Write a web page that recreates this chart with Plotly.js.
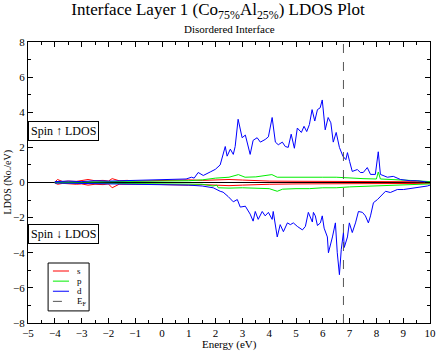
<!DOCTYPE html>
<html>
<head>
<meta charset="utf-8">
<script src="https://cdn.plot.ly/plotly-3.0.1.min.js"></script>
<style>
  body { margin: 0; background: #fff; }
  #graph { width: 436px; height: 351px; }
</style>
</head>
<body>
<div id="graph"></div>
<script>
// s orbital (red)
const sUpE = [-4, -3.9, -3.7, -3.5, -3.2, -3.0, -2.76, -2.5, -2.2, -2.0, -1.86, -1.6, -1.3, -1.0, -0.5, 0, 0.5, 1, 1.5, 2, 2.5, 3, 3.5, 4, 5, 6, 7, 8, 9, 10];
const sUp = [0.02, 0.17, 0.05, 0.08, 0.06, 0.1, 0.17, 0.1, 0.12, 0.08, 0.22, 0.1, 0.12, 0.08, 0.1, 0.12, 0.1, 0.15, 0.12, 0.15, 0.17, 0.14, 0.1, 0.08, 0.07, 0.07, 0.07, 0.06, 0.05, 0.04];
const sDnE = sUpE;
const sDn = [-0.02, -0.1, -0.05, -0.08, -0.1, -0.08, -0.15, -0.1, -0.12, -0.08, -0.3, -0.1, -0.12, -0.1, -0.1, -0.12, -0.1, -0.15, -0.12, -0.15, -0.18, -0.15, -0.12, -0.1, -0.08, -0.08, -0.08, -0.07, -0.06, -0.05];

// p orbital (green)
const pUpE = [-4, -3, -2, -1, 0, 1, 1.5, 2, 2.5, 2.85, 3.1, 3.5, 4.1, 4.3, 5, 5.5, 6, 6.5, 7, 7.5, 8.0, 8.07, 8.15, 8.5, 9, 9.5, 10];
const pUp = [0.02, 0.03, 0.05, 0.05, 0.06, 0.1, 0.15, 0.25, 0.3, 0.45, 0.3, 0.32, 0.45, 0.3, 0.3, 0.32, 0.3, 0.3, 0.25, 0.22, 0.2, 0.6, 0.2, 0.18, 0.15, 0.1, 0.05];
const pDnE = [-4, -3, -2, -1, 0, 1, 1.5, 1.9, 2.05, 2.1, 2.5, 3, 3.5, 4, 4.3, 4.5, 5, 5.5, 6, 6.5, 7, 7.5, 8, 9, 10];
const pDn = [-0.02, -0.03, -0.05, -0.05, -0.06, -0.08, -0.1, -0.2, -0.15, -0.3, -0.32, -0.3, -0.32, -0.35, -0.5, -0.38, -0.35, -0.35, -0.3, -0.3, -0.25, -0.22, -0.2, -0.15, -0.08];

// d orbital (blue)
const dUpE = [-4, -3.5, -3, -2.5, -2, -1.5, -1, -0.5, 0, 0.5, 0.9, 1.1, 1.2, 1.35, 1.54, 1.8, 1.99, 2.17, 2.36, 2.43, 2.55, 2.66, 2.73, 2.84, 2.99, 3.11, 3.22, 3.29, 3.4, 3.55, 3.67, 3.85, 3.97, 4.11, 4.23, 4.34, 4.49, 4.6, 4.71, 4.82, 4.94, 5.05, 5.2, 5.3, 5.4, 5.5, 5.6, 5.7, 5.8, 5.9, 5.98, 6.09, 6.2, 6.3, 6.39, 6.5, 6.62, 6.75, 6.86, 6.92, 7.0, 7.1, 7.29, 7.4, 7.51, 7.66, 7.78, 7.96, 8.07, 8.15, 8.41, 8.63, 8.9, 9.27, 9.53, 9.9, 10];
const dUp = [0.05, 0.08, 0.05, 0.1, 0.08, 0.1, 0.12, 0.1, 0.15, 0.15, 0.2, 0.3, 0.25, 0.57, 0.4, 0.6, 0.75, 1.0, 2.05, 1.5, 1.9, 1.6, 2.05, 3.6, 2.55, 2.7, 2.05, 1.6, 2.4, 2.55, 2.3, 2.45, 2.6, 3.7, 2.3, 2.15, 2.3, 2.05, 2.0, 2.75, 1.95, 3.1, 2.85, 3.2, 2.9, 3.3, 4.15, 3.5, 4.15, 4.25, 4.7, 3.0, 3.7, 3.4, 2.3, 2.85, 2.0, 1.5, 1.3, 1.7, 1.2, 0.63, 0.74, 0.57, 0.57, 0.85, 0.46, 0.46, 1.75, 0.46, 0.3, 0.35, 0.17, 0.1, 0.1, 0.02, 0.0];
const dDnE = [-4, -3, -2, -1, 0, 0.5, 1, 1.5, 1.91, 2.17, 2.28, 2.47, 2.66, 2.81, 2.92, 3.11, 3.29, 3.4, 3.48, 3.59, 3.74, 3.85, 3.97, 4.11, 4.15, 4.3, 4.41, 4.53, 4.68, 4.79, 4.9, 5.05, 5.24, 5.35, 5.46, 5.61, 5.65, 5.72, 5.8, 5.91, 5.98, 6.05, 6.17, 6.21, 6.28, 6.36, 6.47, 6.54, 6.62, 6.69, 6.77, 6.8, 6.92, 6.99, 7.1, 7.22, 7.33, 7.48, 7.59, 7.7, 7.78, 7.89, 8.04, 8.15, 8.34, 8.52, 8.78, 9.01, 9.27, 9.53, 9.9, 10];
const dDn = [-0.03, -0.05, -0.05, -0.08, -0.1, -0.12, -0.15, -0.2, -0.3, -0.5, -0.55, -0.8, -1.1, -0.97, -1.4, -1.35, -1.8, -2.2, -1.65, -2.1, -1.65, -1.9, -1.7, -2.1, -1.65, -3.1, -2.4, -2.8, -2.3, -2.4, -2.3, -2.5, -2.7, -2.5, -1.7, -2.25, -1.7, -1.9, -2.45, -2.3, -1.9, -2.6, -3.1, -4.0, -3.6, -3.1, -2.3, -4.0, -5.25, -3.8, -2.85, -3.7, -3.1, -2.3, -2.85, -2.3, -1.65, -1.7, -1.9, -2.3, -1.9, -1.15, -0.97, -0.8, -0.5, -0.57, -0.4, -0.4, -0.35, -0.3, -0.2, -0.15];

const fermiE = 6.77;
const yMin = -8, yMax = 8;

// legend entries
const legendNames = ['s', 'p', 'd', 'E<sub>F</sub>'];
const legendColors = ['#ff0000', '#00ee00', '#0000ff', '#555555'];
const legendDash = ['solid', 'solid', 'solid', 'dash'];

const serif = 'Liberation Serif';
function sf(size) {
    return {family: serif, size: size, color: '#000'};
}

function line(x, y, color) {
    return {
        x: x, y: y, type: 'scatter', mode: 'lines', showlegend: false,
        hoverinfo: 'skip', line: {color: color, width: 1}
    };
}

const data = [
    line(sUpE, sUp, legendColors[0]),
    line(sDnE, sDn, legendColors[0]),
    line(pUpE, pUp, legendColors[1]),
    line(pDnE, pDn, legendColors[1]),
    line(dUpE, dUp, legendColors[2]),
    line(dDnE, dDn, legendColors[2]),
    {
        x: [fermiE, fermiE], y: [yMin, yMax], type: 'scatter', mode: 'lines',
        showlegend: false, line: {color: legendColors[3], width: 1, dash: 'dash'}
    }
];

// hand made legend box, rows every ~10px
const shapes = [{
    type: 'rect', xref: 'paper', yref: 'paper',
    x0: 0.05, x1: 0.152, y0: 0.043, y1: 0.2135,
    line: {color: '#000', width: 1}, fillcolor: '#fff', layer: 'above'
}];
const annotations = [];
legendNames.forEach(function (nm, i) {
    const yy = 0.185 - i * 0.036;
    shapes.push({
        type: 'line', xref: 'paper', yref: 'paper',
        x0: 0.062, x1: 0.102, y0: yy, y1: yy, layer: 'above',
        line: {color: legendColors[i], width: 1, dash: legendDash[i]}
    });
    annotations.push({
        text: nm, xref: 'paper', yref: 'paper', x: 0.117, y: yy,
        xanchor: 'left', yanchor: 'middle', showarrow: false, font: sf(9)
    });
});

annotations.push(
    {
        text: 'Disordered Interface', xref: 'paper', yref: 'paper',
        x: 0.5, y: 1.047, yanchor: 'middle', showarrow: false, font: sf(11)
    },
    {
        text: 'LDOS (No./eV)', xref: 'paper', yref: 'paper', x: -0.05, y: 0.5,
        textangle: -90, xanchor: 'center', yanchor: 'middle', showarrow: false,
        font: sf(10)
    },
    {
        text: 'Energy (eV)', xref: 'paper', yref: 'paper', x: 0.5, y: -0.075,
        xanchor: 'center', yanchor: 'middle', showarrow: false, font: sf(11)
    },
    {
        text: 'Spin \u2191 LDOS', xref: 'paper', yref: 'y', x: 0, y: 2.95,
        xanchor: 'left', showarrow: false, font: sf(12),
        bgcolor: '#fff', bordercolor: '#000', borderwidth: 1, borderpad: 2
    },
    {
        text: 'Spin \u2193 LDOS', xref: 'paper', yref: 'y', x: 0, y: -2.95,
        xanchor: 'left', showarrow: false, font: sf(12),
        bgcolor: '#fff', bordercolor: '#000', borderwidth: 1, borderpad: 2
    }
);

const layout = {
    width: 436, height: 351,
    margin: {l: 28, r: 6, t: 42, b: 28},
    paper_bgcolor: '#fff', plot_bgcolor: '#fff',
    font: sf(11),
    showlegend: false,
    title: {
        text: 'Interface Layer 1 (Co<sub>75%</sub>Al<sub>25%</sub>) LDOS Plot',
        font: sf(17),
        x: 0.5, xanchor: 'center', yref: 'container', y: 0.974, yanchor: 'middle'
    },
    xaxis: {
        range: [-5, 10], dtick: 1, tick0: -5, automargin: false,
        ticks: 'inside', ticklen: 5, tickcolor: '#000',
        minor: {dtick: 0.5, ticks: 'inside', ticklen: 3, tickcolor: '#000'},
        showline: true, linecolor: '#000', linewidth: 1, mirror: 'allticks',
        showgrid: false, zeroline: false,
        tickfont: sf(11)
    },
    yaxis: {
        range: [yMin, yMax], dtick: 2, automargin: false,
        ticks: 'inside', ticklen: 5, tickcolor: '#000',
        minor: {dtick: 1, ticks: 'inside', ticklen: 3, tickcolor: '#000'},
        showline: true, linecolor: '#000', linewidth: 1, mirror: 'allticks',
        showgrid: false, zeroline: true, zerolinecolor: '#000', zerolinewidth: 1,
        tickfont: sf(11)
    },
    shapes: shapes,
    annotations: annotations
};

Plotly.newPlot('graph', data, layout, {displayModeBar: false, staticPlot: true});
</script>
</body>
</html>
